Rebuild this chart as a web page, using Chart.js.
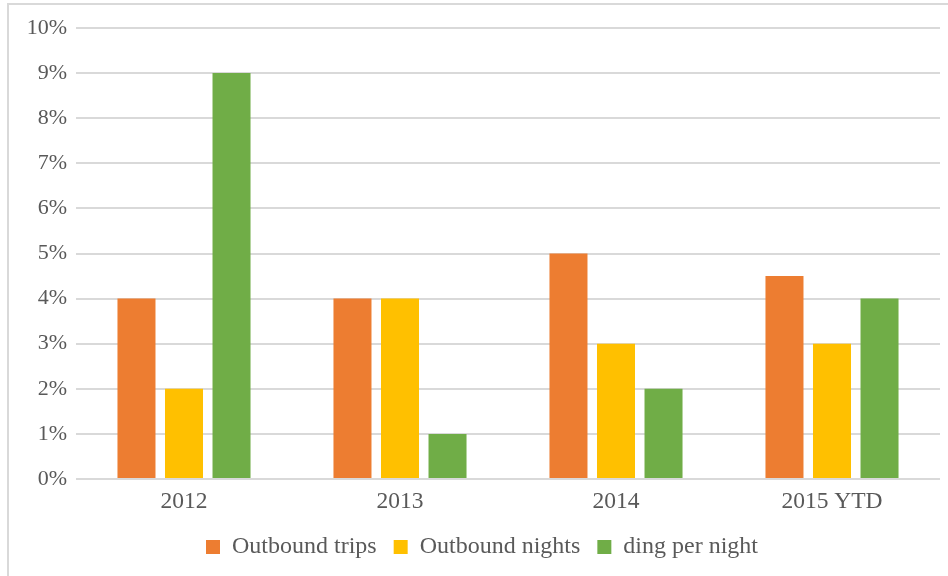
<!DOCTYPE html>
<html>
<head>
<meta charset="utf-8">
<script src="https://cdn.jsdelivr.net/npm/chart.js@4/dist/chart.umd.min.js"></script>
<style>
  html, body { margin: 0; padding: 0; background: #fff; overflow: hidden; }
  #frame {
    position: absolute; left: 7px; top: 3px; width: 980px; height: 620px;
    border: 2px solid #d9d9d9; box-sizing: border-box;
  }
  #wrap { position: absolute; left: 0; top: 0; width: 948px; height: 576px; }
</style>
</head>
<body>
<div id="frame"></div>
<div id="wrap"><canvas id="chart" width="948" height="576"></canvas></div>
<script>
const years = ["2012", "2013", "2014", "2015 YTD"];
const outboundTrips = [4, 4, 5, 4.5];
const outboundNights = [2, 4, 3, 3];
const dingPerNight = [9, 1, 2, 4];

const seriesNames = ["Outbound trips", "Outbound nights", "ding per night"];
const colors = ["#ed7d31", "#ffc000", "#70ad47"];

const textColor = "#595959";
const serif = "'Liberation Serif', 'Times New Roman', serif";

const datasets = [outboundTrips, outboundNights, dingPerNight].map((data, i) => ({
  label: seriesNames[i],
  data,
  backgroundColor: colors[i],
  borderWidth: 0,
  categoryPercentage: 0.66,
  barPercentage: 0.8,
}));

// legend in the original sits a little right of the canvas centre
const nudgeLegend = {
  id: "nudgeLegend",
  afterLayout(chart) {
    if (!chart.legend) return;
    chart.legend.left += 12;
    chart.legend.right += 12;
  },
};

new Chart(document.getElementById("chart"), {
  type: "bar",
  data: { labels: years, datasets },
  plugins: [nudgeLegend],
  options: {
    responsive: false,
    animation: false,
    layout: { padding: { left: 0, right: 8, top: 28, bottom: 7 } },
    plugins: {
      tooltip: { enabled: false },
      legend: {
        position: "bottom",
        labels: {
          color: textColor,
          font: { family: serif, size: 24 },
          boxWidth: 14,
          boxHeight: 14,
          padding: 17,
        },
      },
    },
    scales: {
      x: {
        grid: { display: false },
        border: { display: false },
        ticks: {
          color: textColor,
          font: { family: serif, size: 23.5 },
          padding: 1,
        },
        afterFit(scale) { scale.height = 39; },
      },
      y: {
        min: 0,
        max: 10,
        grid: { color: "#d9d9d9", lineWidth: 2, drawTicks: false },
        border: { display: false },
        ticks: {
          stepSize: 1,
          color: textColor,
          font: { family: serif, size: 22 },
          padding: 9,
          callback: (v) => v + "%",
        },
        afterFit(scale) { scale.width = 76; },
      },
    },
  },
});
</script>
</body>
</html>
